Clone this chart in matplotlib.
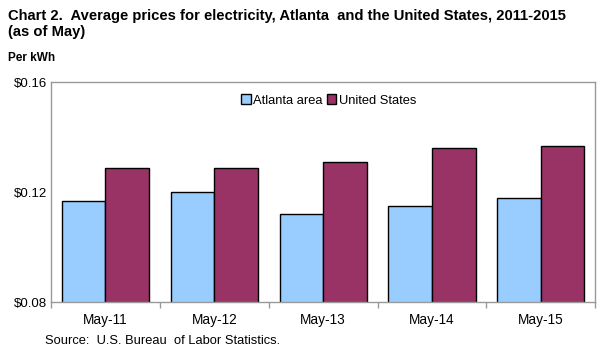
import matplotlib
matplotlib.use("Agg")
import matplotlib.pyplot as plt
import numpy as np

categories = ["May-11", "May-12", "May-13", "May-14", "May-15"]
atlanta = [0.117, 0.120, 0.112, 0.115, 0.118]
us = [0.129, 0.129, 0.131, 0.136, 0.137]
yticks = [0.08, 0.12, 0.16]
ytick_labels = ["$0.08", "$0.12", "$0.16"]

plt.rcParams['font.family'] = ['Liberation Sans', 'DejaVu Sans']

fig = plt.figure(figsize=(6.03, 3.62), dpi=100)
ax = fig.add_axes([51/603, 1-302.3/362, (595.3-51)/603, (302.3-82.3)/362])

x = np.arange(len(categories))
w = 0.4
ax.bar(x - w/2, atlanta, w, color="#99CCFF", edgecolor="black", linewidth=1, label="Atlanta area", zorder=2)
ax.bar(x + w/2, us, w, color="#993366", edgecolor="black", linewidth=1, label="United States", zorder=2)

ax.set_xlim(-0.5, len(categories) - 0.5)
ax.set_ylim(0.08, 0.16)
ax.set_yticks(yticks)
ax.set_yticklabels(ytick_labels, fontsize=9.5)
ax.set_xticks(x)
ax.set_xticklabels(categories, fontsize=9.8)
ax.set_xticks(np.arange(len(categories) + 1) - 0.5, minor=True)
ax.tick_params(axis='x', which='major', length=0, pad=8)
ax.tick_params(axis='x', which='minor', length=4, color='#999999', width=1)
ax.tick_params(axis='y', length=0, pad=3)
for s in ax.spines.values():
    s.set_color('#999999')
    s.set_linewidth(1)

ax.legend(loc='upper center', bbox_to_anchor=(0.51, 0.98), ncol=2, frameon=False,
          fontsize=9.3, handlelength=0.75, handleheight=0.75, handletextpad=0.2,
          columnspacing=0.3, borderaxespad=0.2)

fig.text(8/603, 1-16/362, "Chart 2.  Average prices for electricity, Atlanta  and the United States, 2011-2015",
         fontsize=10.6, fontweight='bold', va='center', ha='left')
fig.text(8/603, 1-32/362, "(as of May)", fontsize=10.6, fontweight='bold', va='center', ha='left')
fig.text(8/603, 1-58/362, "Per kWh", fontsize=8.5, fontweight='bold', va='center', ha='left')
fig.text(45/603, 1-341/362, "Source:  U.S. Bureau  of Labor Statistics.", fontsize=9.3, va='center', ha='left')

fig.savefig("out.png", dpi=100)
